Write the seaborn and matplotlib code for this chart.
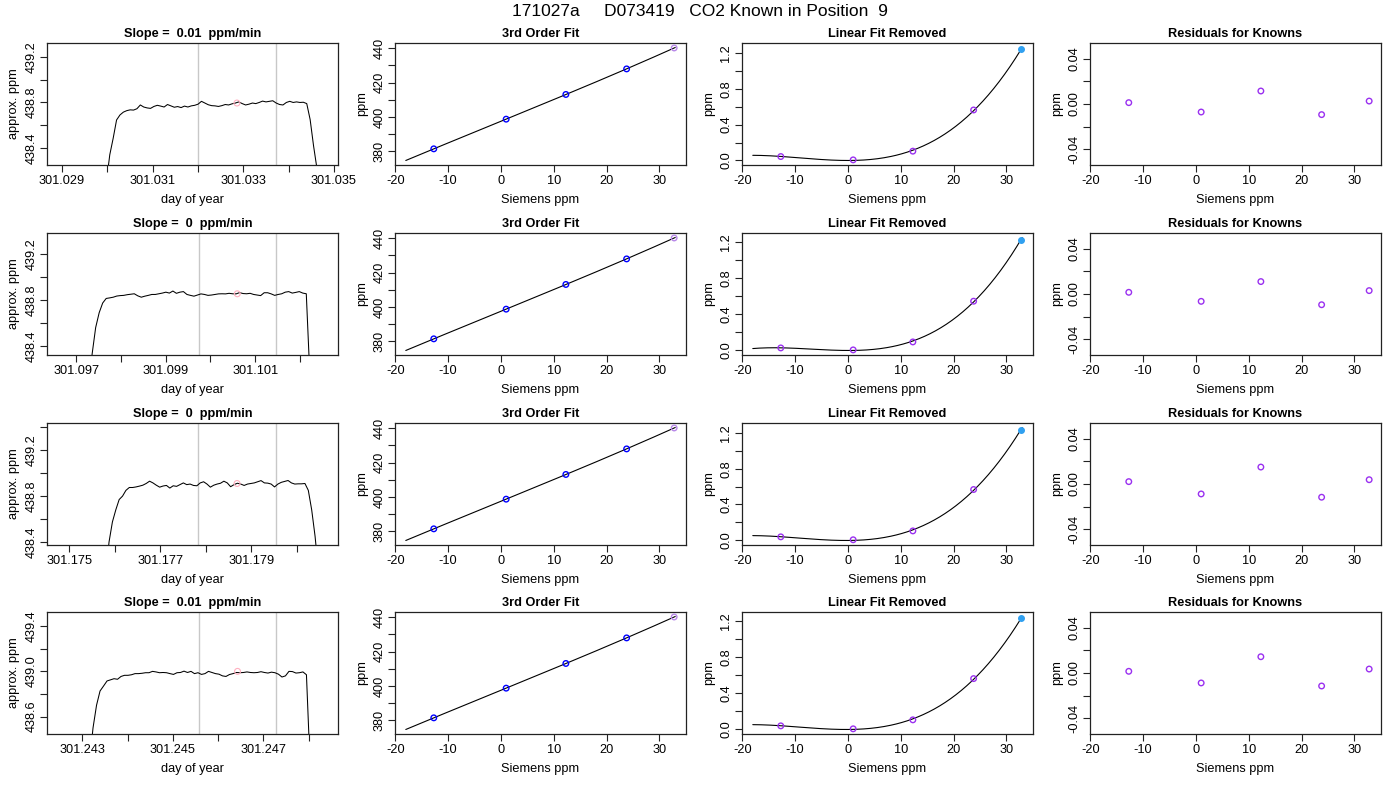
import numpy as np
import pandas as pd
import matplotlib
matplotlib.use("Agg")
import matplotlib.pyplot as plt
import seaborn as sns

sns.set_style("white")
plt.rcParams['font.family'] = ['Liberation Sans', 'DejaVu Sans']
plt.rcParams['text.color'] = 'black'
plt.rcParams['axes.labelcolor'] = 'black'
plt.rcParams['xtick.color'] = 'black'
plt.rcParams['ytick.color'] = 'black'
plt.rcParams['xtick.labelcolor'] = 'black'
plt.rcParams['ytick.labelcolor'] = 'black'

# ---------------- data ----------------
TITLE = "171027a     D073419   CO2 Known in Position  9"
slope_labels = ["0.01", "0", "0", "0.01"]

# time series (day of year vs approx. ppm)
ts_start = [301.02998, 301.09728, 301.17580, 301.24316]
ts_end = [301.03470, 301.10222, 301.18048, 301.24803]

ts_vals_1 = [438.10, 438.34, 438.485, 438.646, 438.69, 438.715, 438.728, 438.735, 438.733, 438.745,
             438.778, 438.76, 438.752, 438.748, 438.765, 438.775, 438.768, 438.76, 438.782, 438.77,
             438.758, 438.764, 438.755, 438.768, 438.76, 438.77, 438.775, 438.785, 438.81, 438.795,
             438.78, 438.772, 438.77, 438.765, 438.772, 438.782, 438.778, 438.788, 438.795, 438.805,
             438.79, 438.778, 438.785, 438.795, 438.79, 438.80, 438.812, 438.805, 438.81, 438.815,
             438.795, 438.782, 438.778, 438.80, 438.81, 438.80, 438.805, 438.80, 438.802, 438.79,
             438.65, 438.42, 438.22, 437.90]
ts_vals_2 = [438.00, 438.33, 438.56, 438.69, 438.775, 438.815, 438.82, 438.826, 438.836, 438.84,
             438.842, 438.848, 438.852, 438.856, 438.838, 438.826, 438.835, 438.842, 438.85, 438.85,
             438.856, 438.862, 438.87, 438.862, 438.88, 438.86, 438.87, 438.875, 438.85, 438.842,
             438.835, 438.845, 438.855, 438.85, 438.842, 438.845, 438.85, 438.855, 438.856, 438.855,
             438.86, 438.856, 438.855, 438.866, 438.858, 438.856, 438.86, 438.85, 438.845, 438.84,
             438.865, 438.865, 438.855, 438.842, 438.85, 438.856, 438.87, 438.875, 438.862, 438.868,
             438.875, 438.862, 438.856, 438.15]
ts_vals_3 = [438.10, 438.40, 438.575, 438.68, 438.77, 438.80, 438.85, 438.875, 438.875, 438.88,
             438.887, 438.895, 438.91, 438.93, 438.915, 438.895, 438.878, 438.888, 438.893, 438.87,
             438.89, 438.885, 438.90, 438.915, 438.90, 438.905, 438.893, 438.89, 438.915, 438.925,
             438.905, 438.878, 438.895, 438.905, 438.912, 438.93, 438.915, 438.882, 438.90, 438.912,
             438.905, 438.893, 438.905, 438.91, 438.915, 438.925, 438.935, 438.915, 438.913, 438.905,
             438.88, 438.905, 438.92, 438.928, 438.936, 438.915, 438.905, 438.907, 438.907, 438.91,
             438.85, 438.68, 438.45, 438.15]
ts_vals_4 = [438.20, 438.50, 438.70, 438.826, 438.87, 438.915, 438.925, 438.935, 438.93, 438.955,
             438.965, 438.965, 438.97, 438.98, 438.98, 438.983, 438.988, 438.988, 439.00, 438.995,
             438.988, 438.99, 438.988, 438.98, 438.973, 438.988, 438.99, 439.002, 438.99, 439.00,
             438.98, 438.988, 438.973, 438.98, 439.00, 438.99, 438.98, 438.975, 438.96, 438.955,
             438.972, 438.98, 438.99, 438.988, 438.99, 438.995, 438.99, 438.988, 438.99, 438.997,
             438.99, 438.985, 438.993, 438.988, 438.975, 438.95, 438.96, 439.00, 438.998, 438.985,
             438.988, 438.995, 438.97, 438.20]
ts_vals = [ts_vals_1, ts_vals_2, ts_vals_3, ts_vals_4]

gray_lines = [[301.03200, 301.03372], [301.09974, 301.10147],
              [301.17784, 301.17955], [301.24557, 301.24729]]
mean_x = [301.03286, 301.10060, 301.17869, 301.24643]
mean_y = [438.795, 438.856, 438.910, 439.000]
ts_xlim = [(301.02867, 301.03509), (301.09635, 301.10285),
           (301.17451, 301.18091), (301.24222, 301.24865)]
ts_ylim = [(438.25, 439.323), (438.32, 439.388), (438.374, 439.437), (438.445, 439.526)]
ts_xtick0 = [301.029, 301.097, 301.175, 301.243]
ts_ytick0 = [438.4, 438.4, 438.4, 438.6]

# calibration data
siemens = [-12.7, 1.0, 12.3, 23.8, 32.8]
fit_range = [-18.0, 33.0]
ppm_1 = [381.4, 398.7, 413.1, 428.0, 440.2]
ppm_2 = [381.4, 398.7, 413.1, 428.0, 440.2]
ppm_3 = [381.4, 398.7, 413.1, 428.0, 440.2]
ppm_4 = [381.4, 398.7, 413.1, 428.0, 440.2]
ppm_rows = [ppm_1, ppm_2, ppm_3, ppm_4]

linrem_1 = [0.044, 0.007, 0.104, 0.563, 1.237]
linrem_2 = [0.022, 0.000, 0.089, 0.544, 1.233]
linrem_3 = [0.033, 0.000, 0.100, 0.567, 1.244]
linrem_4 = [0.033, 0.000, 0.100, 0.560, 1.230]
linrem_rows = [linrem_1, linrem_2, linrem_3, linrem_4]

resid_1 = [0.0012, -0.0071, 0.0115, -0.0094, 0.0026]
resid_2 = [0.0015, -0.0065, 0.0110, -0.0095, 0.0030]
resid_3 = [0.0021, -0.0088, 0.0150, -0.0117, 0.0038]
resid_4 = [0.0015, -0.0088, 0.0144, -0.0115, 0.0035]
resid_rows = [resid_1, resid_2, resid_3, resid_4]

# ---------------- styling ----------------
W, H = 1400, 800
fig = plt.figure(figsize=(14, 8), dpi=100)

col_left = [47, 395, 742, 1090]
col_w = 291
row_top = [43, 233, 423, 612]
row_h = 122

FS = 9.2
BLUE = "#0000ff"
PURPLE = "#9a30f0"
LAV = "#b888e8"
SKY = "#30a0f0"


def make_ax(r, c):
    l = col_left[c] / W
    b = 1 - (row_top[r] + row_h) / H
    ax = fig.add_axes([l, b, col_w / W, row_h / H])
    for s in ax.spines.values():
        s.set_visible(True)
        s.set_color("#222222")
        s.set_linewidth(0.9)
    ax.tick_params(axis="both", which="both", direction="out", length=5, width=0.8,
                   color="#222222", labelcolor="black", labelsize=FS, pad=2,
                   left=True, bottom=True)
    return ax


def set_ticks(ax, xt, xl, yt, yl):
    ax.set_xticks(xt)
    ax.set_xticklabels(xl)
    ax.set_yticks(yt)
    ax.set_yticklabels(yl, rotation=90, va="center")


def rlim(vals):
    lo, hi = min(vals), max(vals)
    d = (hi - lo) * 0.04
    return lo - d, hi + d


def labels(ax, xlab, ylab, title):
    ax.set_xlabel(xlab, fontsize=FS, labelpad=5, color="black")
    ax.set_ylabel(ylab, fontsize=FS, labelpad=4, color="black")
    ax.set_title(title, fontsize=FS, fontweight="bold", pad=4, color="black")


xt_cal = [-20, -10, 0, 10, 20, 30]
xl_cal = ["-20", "-10", "0", "10", "20", "30"]

for r in range(4):
    # ---- column 1: time series ----
    ax = make_ax(r, 0)
    x = np.linspace(ts_start[r], ts_end[r], len(ts_vals[r]))
    df = pd.DataFrame({"t": x, "ppm": ts_vals[r]})
    for g in gray_lines[r]:
        ax.axvline(g, color="#c8c8c8", lw=1.0, zorder=1)
    sns.lineplot(data=df, x="t", y="ppm", ax=ax, color="black", lw=0.75,
                 estimator=None, sort=False, zorder=3)
    sns.scatterplot(x=[mean_x[r]], y=[mean_y[r]], ax=ax, marker="o", s=18,
                    facecolor="none", edgecolor="#ffb0c0", linewidth=0.8, zorder=4)
    ax.set_xlim(*ts_xlim[r])
    ax.set_ylim(*ts_ylim[r])
    xt = [ts_xtick0[r] + 0.001 * k for k in range(7)]
    xt = [v for v in xt if ts_xlim[r][0] <= v <= ts_xlim[r][1]]
    xl = [f"{v:.3f}" if k % 2 == 0 else "" for k, v in enumerate(xt)]
    yt = [round(ts_ytick0[r] + 0.2 * k, 1) for k in range(6)]
    yt = [v for v in yt if ts_ylim[r][0] <= v <= ts_ylim[r][1]]
    yl = [f"{v:.1f}" if k % 2 == 0 else "" for k, v in enumerate(yt)]
    set_ticks(ax, xt, xl, yt, yl)
    labels(ax, "day of year", "approx. ppm", f"Slope =  {slope_labels[r]}  ppm/min")

    xs = np.linspace(fit_range[0], fit_range[1], 200)

    # ---- column 2: 3rd order fit ----
    ax = make_ax(r, 1)
    coef = np.polyfit(siemens, ppm_rows[r], 3)
    ys = np.polyval(coef, xs)
    sns.lineplot(x=xs, y=ys, ax=ax, color="black", lw=0.8, estimator=None, sort=False)
    sns.scatterplot(x=siemens[:4], y=ppm_rows[r][:4], ax=ax, marker="o", s=16,
                    facecolor="none", edgecolor=BLUE, linewidth=1.0, zorder=4)
    sns.scatterplot(x=siemens[4:], y=ppm_rows[r][4:], ax=ax, marker="o", s=16,
                    facecolor="none", edgecolor=LAV, linewidth=1.0, zorder=4)
    ax.set_xlim(-20.04, 35.04)
    ax.set_ylim(*rlim(list(ys) + ppm_rows[r]))
    yt = [380, 390, 400, 410, 420, 430, 440]
    yl = ["380", "", "400", "", "420", "", "440"]
    set_ticks(ax, xt_cal, xl_cal, yt, yl)
    labels(ax, "Siemens ppm", "ppm", "3rd Order Fit")

    # ---- column 3: linear fit removed ----
    ax = make_ax(r, 2)
    coef = np.polyfit(siemens, linrem_rows[r], 3)
    ys = np.polyval(coef, xs)
    sns.lineplot(x=xs, y=ys, ax=ax, color="black", lw=0.8, estimator=None, sort=False)
    sns.scatterplot(x=siemens[:4], y=linrem_rows[r][:4], ax=ax, marker="o", s=16,
                    facecolor="none", edgecolor=PURPLE, linewidth=1.0, zorder=4)
    sns.scatterplot(x=siemens[4:], y=linrem_rows[r][4:], ax=ax, marker="o", s=16,
                    facecolor=SKY, edgecolor=SKY, linewidth=1.0, zorder=4)
    ax.set_xlim(-20.04, 35.04)
    ax.set_ylim(*rlim(list(ys) + linrem_rows[r]))
    yt = [0.0, 0.2, 0.4, 0.6, 0.8, 1.0, 1.2]
    yl = ["0.0", "", "0.4", "", "0.8", "", "1.2"]
    set_ticks(ax, xt_cal, xl_cal, yt, yl)
    labels(ax, "Siemens ppm", "ppm", "Linear Fit Removed")

    # ---- column 4: residuals ----
    ax = make_ax(r, 3)
    sns.scatterplot(x=siemens, y=resid_rows[r], ax=ax, marker="o", s=16,
                    facecolor="none", edgecolor=PURPLE, linewidth=1.0, zorder=4)
    ax.set_xlim(-20.04, 35.04)
    ax.set_ylim(-0.054, 0.054)
    yt = [-0.04, -0.02, 0.0, 0.02, 0.04]
    yl = ["-0.04", "", "0.00", "", "0.04"]
    set_ticks(ax, xt_cal, xl_cal, yt, yl)
    labels(ax, "Siemens ppm", "ppm", "Residuals for Knowns")

fig.text(0.5, 1 - 11 / H, TITLE, ha="center", va="center", fontsize=12.5, color="black")

fig.savefig("out.png", dpi=100)
